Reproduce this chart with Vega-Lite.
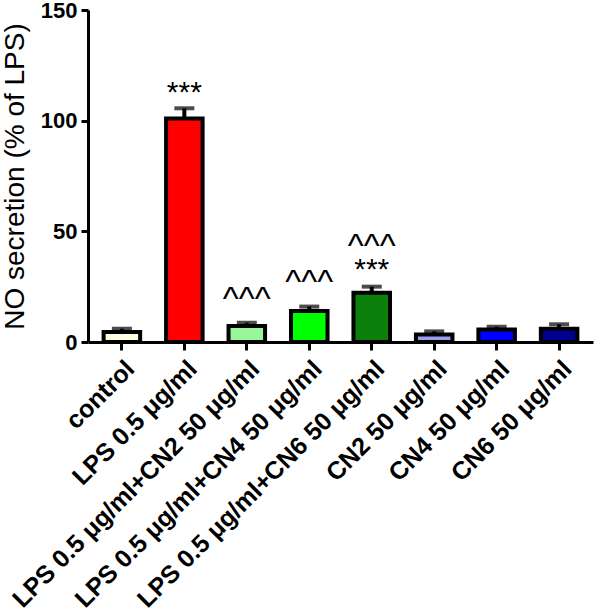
{
  "$schema": "https://vega.github.io/schema/vega-lite/v6.json",
  "autosize": {"type": "none"},
  "padding": {"left": 88, "top": 10, "right": 2, "bottom": 274},
  "width": 505,
  "height": 332,
  "background": "white",
  "config": {
    "view": {"stroke": null},
    "font": "Liberation Sans",
    "axis": {"domainColor": "black", "tickColor": "black", "labelColor": "black", "titleColor": "black", "grid": false}
  },
  "datasets": {
    "bars": [
      {"group": "control", "value": 4.5, "upper": 6.0},
      {"group": "LPS 0.5 μg/ml", "value": 101, "upper": 105.6},
      {"group": "LPS 0.5 μg/ml+CN2 50 μg/ml", "value": 7.2, "upper": 8.7},
      {"group": "LPS 0.5 μg/ml+CN4 50 μg/ml", "value": 14, "upper": 16},
      {"group": "LPS 0.5 μg/ml+CN6 50 μg/ml", "value": 22.3, "upper": 25},
      {"group": "CN2 50 μg/ml", "value": 3.4, "upper": 4.8},
      {"group": "CN4 50 μg/ml", "value": 5.6, "upper": 6.9},
      {"group": "CN6 50 μg/ml", "value": 6.0, "upper": 8.0}
    ],
    "ann": [
      {"group": "LPS 0.5 μg/ml", "label": "***", "pos": 108.4},
      {"group": "LPS 0.5 μg/ml+CN6 50 μg/ml", "label": "***", "pos": 28.4},
      {"group": "LPS 0.5 μg/ml+CN2 50 μg/ml", "label": "^^^", "pos": 14.6},
      {"group": "LPS 0.5 μg/ml+CN4 50 μg/ml", "label": "^^^", "pos": 22.3},
      {"group": "LPS 0.5 μg/ml+CN6 50 μg/ml", "label": "^^^", "pos": 38.2}
    ]
  },
  "encoding": {
    "x": {
      "field": "group",
      "type": "nominal",
      "sort": null,
      "scale": {
        "domain": ["control", "LPS 0.5 μg/ml", "LPS 0.5 μg/ml+CN2 50 μg/ml", "LPS 0.5 μg/ml+CN4 50 μg/ml", "LPS 0.5 μg/ml+CN6 50 μg/ml", "CN2 50 μg/ml", "CN4 50 μg/ml", "CN6 50 μg/ml"],
        "paddingInner": 0.415,
        "paddingOuter": 0.25
      },
      "axis": {
        "title": null,
        "labelAngle": -45,
        "labelFontSize": 25,
        "labelFontWeight": "bold",
        "labelPadding": 6,
        "labelLimit": 0,
        "domainWidth": 3,
        "tickWidth": 3,
        "tickSize": 8
      }
    }
  },
  "layer": [
    {
      "data": {"name": "bars"},
      "mark": {"type": "bar", "stroke": "black", "strokeWidth": 4},
      "encoding": {
        "y": {
          "field": "value",
          "type": "quantitative",
          "scale": {"domain": [0, 150], "nice": false},
          "axis": {
            "title": "NO secretion (%  of LPS)",
            "titleFontSize": 28,
            "titleFontWeight": "normal",
            "titlePadding": 11,
            "values": [0, 50, 100, 150],
            "labelFontSize": 22,
            "labelFontWeight": "bold",
            "labelPadding": 4,
            "domainWidth": 3,
            "tickWidth": 3,
            "tickSize": 7
          }
        },
        "fill": {
          "field": "group",
          "type": "nominal",
          "legend": null,
          "scale": {
            "domain": ["control", "LPS 0.5 μg/ml", "LPS 0.5 μg/ml+CN2 50 μg/ml", "LPS 0.5 μg/ml+CN4 50 μg/ml", "LPS 0.5 μg/ml+CN6 50 μg/ml", "CN2 50 μg/ml", "CN4 50 μg/ml", "CN6 50 μg/ml"],
            "range": ["#FFFDE0", "#FF0000", "#98F598", "#00FF00", "#0A800A", "#9C9CF0", "#0000FF", "#000090"]
          }
        }
      }
    },
    {
      "data": {"name": "bars"},
      "mark": {"type": "rule", "color": "black", "strokeWidth": 4},
      "encoding": {
        "y": {"field": "value", "type": "quantitative"},
        "y2": {"field": "upper"}
      }
    },
    {
      "data": {"name": "bars"},
      "mark": {"type": "tick", "color": "black", "size": 20, "thickness": 4, "orient": "horizontal"},
      "encoding": {
        "y": {"field": "upper", "type": "quantitative"}
      }
    },
    {
      "data": {"name": "ann"},
      "transform": [{"filter": "datum.label === '***'"}],
      "mark": {"type": "text", "fontSize": 30, "baseline": "alphabetic", "align": "center", "color": "black"},
      "encoding": {
        "y": {"field": "pos", "type": "quantitative"},
        "text": {"field": "label"}
      }
    },
    {
      "data": {"name": "ann"},
      "transform": [{"filter": "datum.label !== '***'"}],
      "mark": {"type": "text", "fontSize": 34, "baseline": "alphabetic", "align": "center", "color": "black"},
      "encoding": {
        "y": {"field": "pos", "type": "quantitative"},
        "text": {"field": "label"}
      }
    }
  ]
}
